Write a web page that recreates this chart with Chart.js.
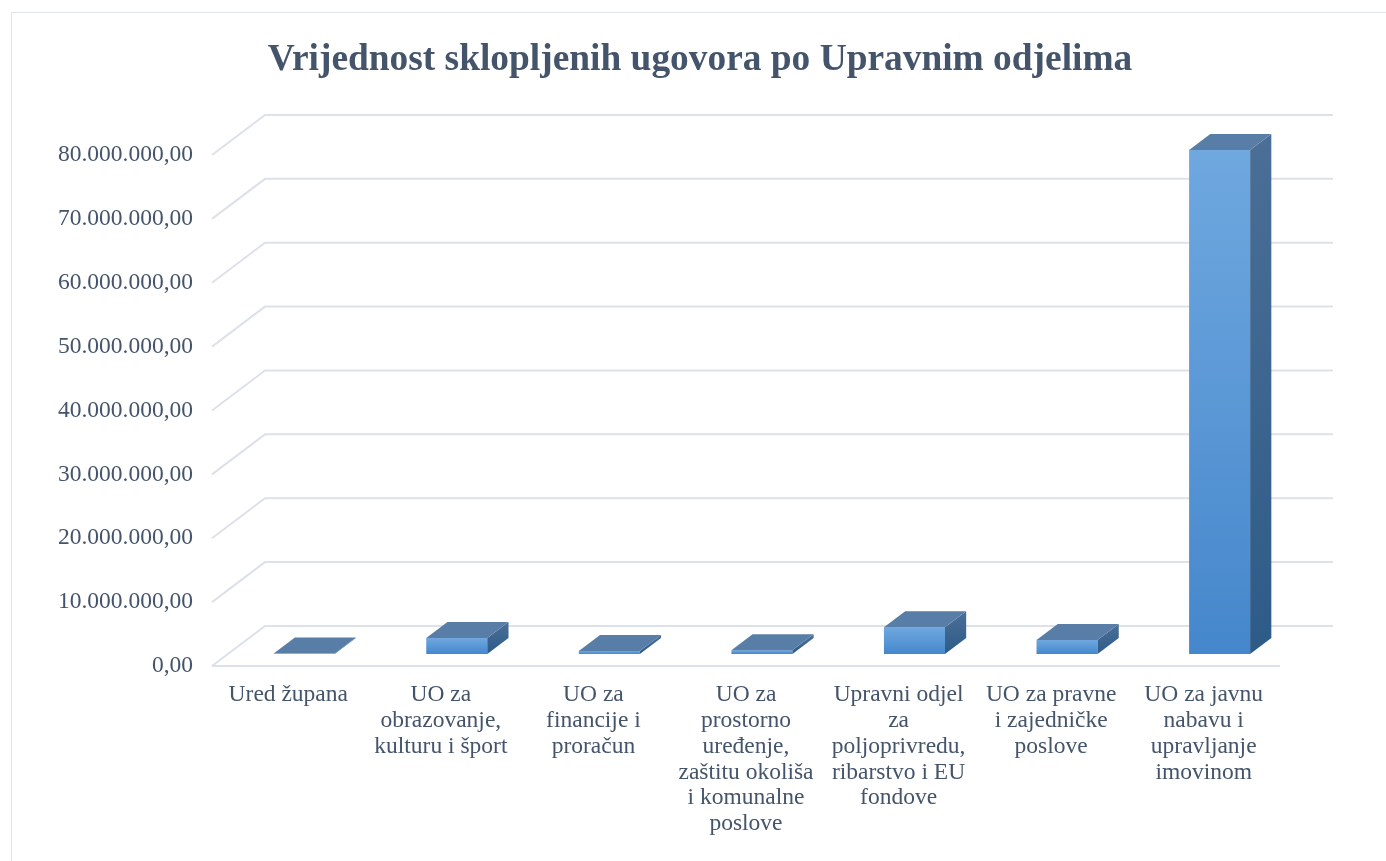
<!DOCTYPE html>
<html><head><meta charset="utf-8">
<script src="https://cdn.jsdelivr.net/npm/chart.js@4.4.1/dist/chart.umd.min.js"></script>
<style>
html,body{margin:0;padding:0;background:#fff;overflow:hidden}
#frame{position:absolute;left:11px;top:12px;width:1400px;height:900px;border:1.5px solid #dfe3ea;box-sizing:border-box}
#wrap{position:absolute;left:0;top:0;width:1386px;height:861px}
</style></head><body>
<div id="frame"></div>
<div id="wrap"><canvas id="c"></canvas></div>
<script>
'use strict';

/* ═══════════ DATA ═══════════ */
var categories=[
  'Ured župana',
  ['UO za','obrazovanje,','kulturu i šport'],
  ['UO za','financije i','proračun'],
  ['UO za','prostorno','uređenje,','zaštitu okoliša','i komunalne','poslove'],
  ['Upravni odjel','za','poljoprivredu,','ribarstvo i EU','fondove'],
  ['UO za pravne','i zajedničke','poslove'],
  ['UO za javnu','nabavu i','upravljanje','imovinom']];
var values=[60000,2500000,470000,600000,4200000,2200000,78900000];
var yMin=0,yMax=80000000,yStep=10000000;
var title='Vrijednost sklopljenih ugovora po Upravnim odjelima';

/* ═══════════ STYLE ═══════════ */
var SERIF="'Liberation Serif','Times New Roman',serif";
var TXT='#44546a',GRID='#dde1e8';
/* depth of the 3d floor, and where the columns sit inside it */
var DX=53,DY=40,F0=0.3,F1=0.7;

function fmt(v){return Math.round(v).toString().replace(/\B(?=(\d{3})+(?!\d))/g,'.')+',00'}

/* ═══════════ 3D PLUGIN ═══════════ */
var box3d={id:'box3d',
  beforeDatasetsDraw:function(ch){var c=ch.ctx,a=ch.chartArea,ys=ch.scales.y;
    c.save();c.strokeStyle=GRID;c.lineWidth=2;
    ys.ticks.forEach(function(t){var y=ys.getPixelForValue(t.value);
      c.beginPath();c.moveTo(a.left,y);c.lineTo(a.left+DX,y-DY);c.lineTo(a.right+DX,y-DY);c.stroke();
      if(t.value===0){c.beginPath();c.moveTo(a.left,y);c.lineTo(a.right,y);c.stroke()}});
    c.restore()},
  afterDatasetsDraw:function(ch){var c=ch.ctx,meta=ch.getDatasetMeta(0);
    var ox=DX*F0,oy=DY*F0,dx=DX*(F1-F0),dy=DY*(F1-F0);
    c.save();
    meta.data.forEach(function(b){var w=b.width,x0=b.x-w/2+ox,x1=x0+w,top=b.y-oy,bot=b.base-oy;
      /* front */
      var g=c.createLinearGradient(0,top,0,bot+0.01);g.addColorStop(0,'#6fa8df');g.addColorStop(1,'#4587cc');
      c.fillStyle=g;c.fillRect(x0,top,w,bot-top);
      /* side */
      var gs=c.createLinearGradient(0,top-dy,0,bot+0.01);gs.addColorStop(0,'#4b6f96');gs.addColorStop(1,'#2d5b88');
      c.fillStyle=gs;c.beginPath();c.moveTo(x1,top);c.lineTo(x1+dx,top-dy);c.lineTo(x1+dx,bot-dy);c.lineTo(x1,bot);c.closePath();c.fill();
      /* top */
      c.fillStyle='#587ea8';c.beginPath();c.moveTo(x0,top);c.lineTo(x1,top);c.lineTo(x1+dx,top-dy);c.lineTo(x0+dx,top-dy);c.closePath();c.fill()});
    c.restore()}};

/* ═══════════ CHART ═══════════ */
new Chart(document.getElementById('c'),{type:'bar',
  data:{labels:categories,datasets:[{data:values,backgroundColor:'rgba(0,0,0,0)',borderWidth:0,barPercentage:0.4,categoryPercentage:1}]},
  plugins:[box3d],
  options:{responsive:true,maintainAspectRatio:false,animation:false,
    layout:{padding:{left:14,right:0,top:0,bottom:0}},
    plugins:{legend:{display:false},tooltip:{enabled:false},
      title:{display:true,text:title,color:TXT,font:{family:SERIF,size:37.4,weight:'bold',lineHeight:1.2},padding:{top:38,bottom:72.1}}},
    scales:{
      x:{grid:{display:false,drawTicks:false},border:{display:false},
        ticks:{color:TXT,font:{family:SERIF,size:23.5,lineHeight:1.1},padding:16,maxRotation:0,minRotation:0,autoSkip:false},
        afterFit:function(s){s.height=195}},
      y:{min:yMin,max:yMax,grid:{display:false,drawTicks:false},border:{display:false},
        ticks:{stepSize:yStep,color:TXT,font:{family:SERIF,size:23.5},padding:19,callback:function(v){return fmt(v)}},
        afterFit:function(s){s.width=198}},
      yR:{position:'right',display:true,grid:{display:false,drawTicks:false},border:{display:false},ticks:{display:false},
        afterFit:function(s){s.width=106}}}}});
</script></body></html>
